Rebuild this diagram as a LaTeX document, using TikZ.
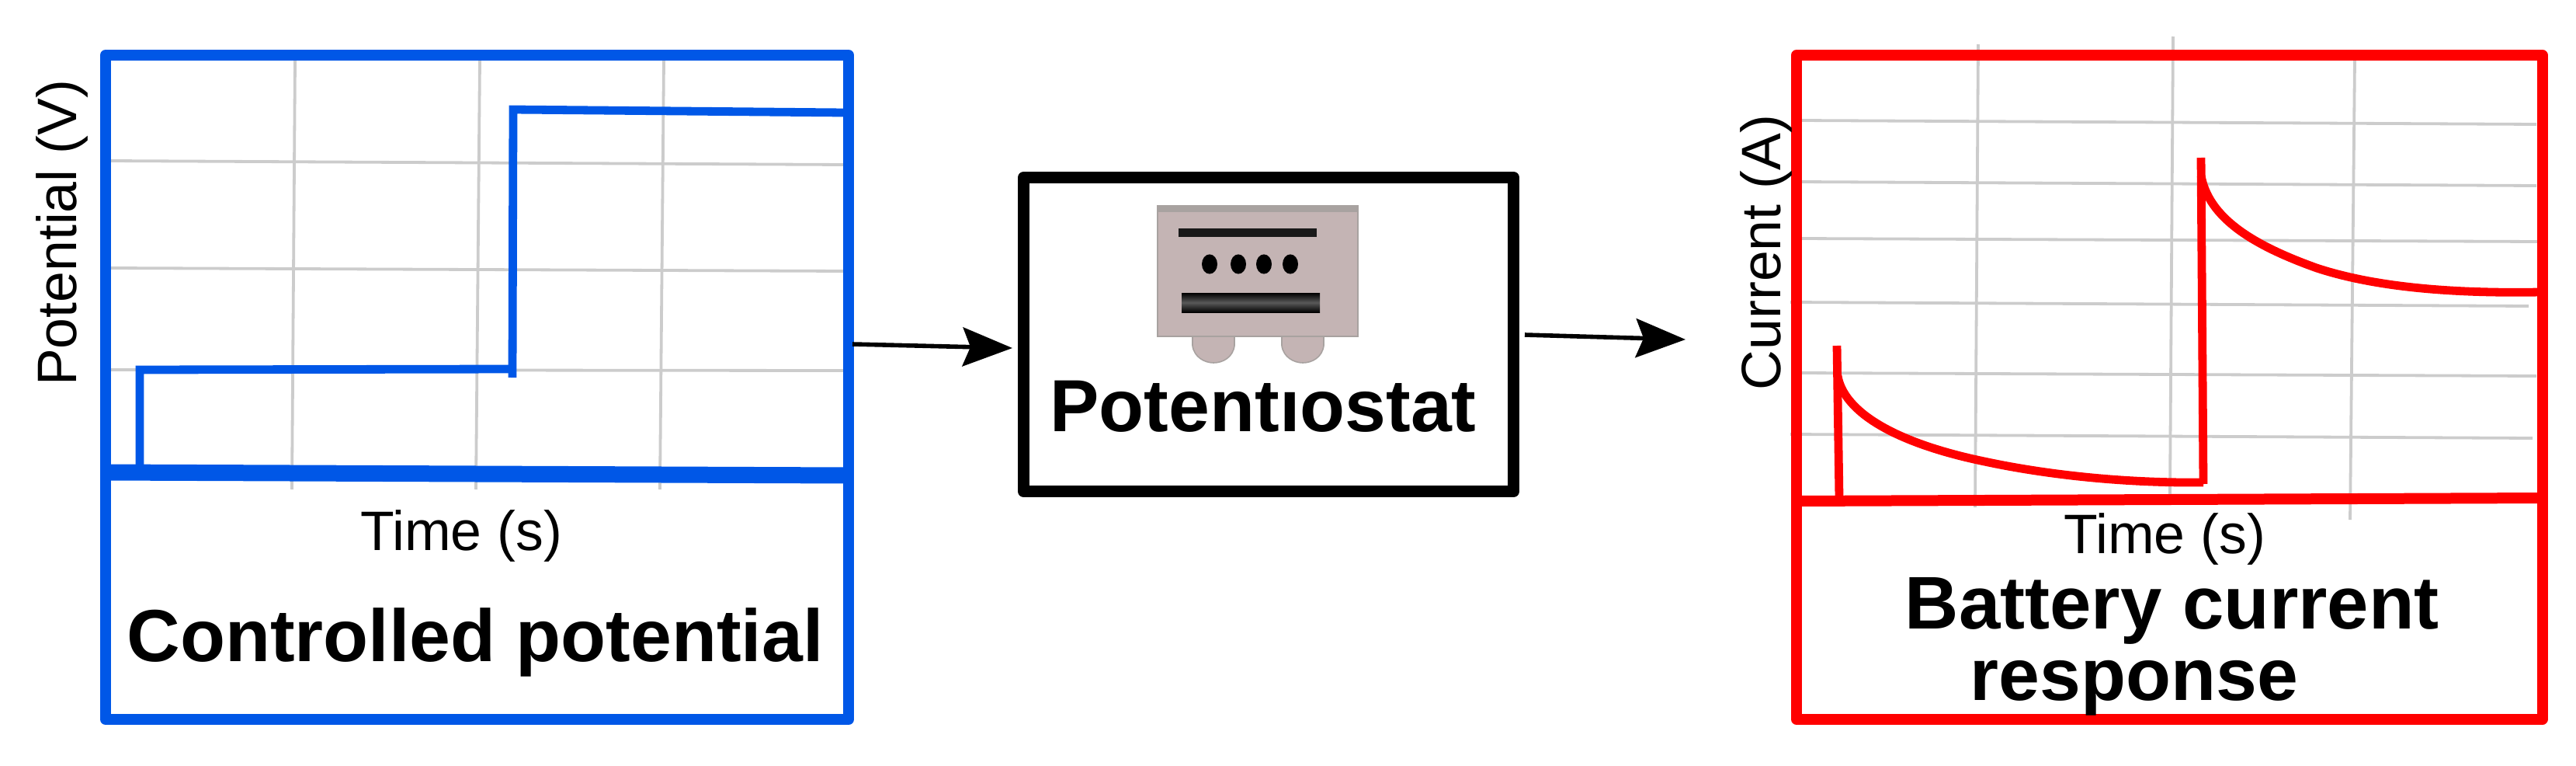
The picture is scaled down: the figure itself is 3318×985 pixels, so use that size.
\documentclass[tikz,border=0pt]{standalone}
\usepackage{fontspec}
\setmainfont{Liberation Sans}
\usetikzlibrary{arrows.meta}
\definecolor{fblue}{HTML}{0057E7}
\definecolor{fred}{HTML}{FF0000}
\definecolor{gridc}{HTML}{CCCCCC}
\definecolor{iconbody}{HTML}{C4B4B4}
\definecolor{iconedge}{HTML}{A8A2A0}
\tikzset{
  panel/.style={draw=#1,line width=7pt,line join=round,rectangle,inner sep=0pt,outer sep=0pt,fill=none},
  gridline/.style={draw=gridc,line width=1.9pt},
  plotblue/.style={draw=fblue,line width=5.4pt,line join=miter},
  plotred/.style={draw=fred,line width=5.4pt,line join=miter},
  flow/.style={draw=black,line width=2.8pt,-{Stealth[length=32pt,width=25pt,inset=5pt]}},
  axislabel/.style={font=\fontsize{35.8}{38}\selectfont,inner sep=0pt},
  title/.style={font=\fontsize{47.5}{50}\bfseries\selectfont,inner sep=0pt,anchor=base},
}
\begin{document}
\begin{tikzpicture}[x=0.5pt,y=-0.5pt]
\useasboundingbox (0,0) rectangle (3318,985);
% left panel grid
\foreach \a/\b in {380/376,618/613,855/850}{\draw[gridline] (\a,78) -- (\b,630);}
\foreach \a/\b in {207/212,345/349,476/477}{\draw[gridline] (142,\a) -- (1088,\b);}
\node[panel=fblue,minimum width=478.5pt,minimum height=427.5pt,anchor=north west] (inbox) at (136,71) {};
\draw[fblue,line width=10.5pt] (inbox.west |- 0,608) -- (inbox.east |- 0,612);
\draw[plotblue] (180,602) -- (180,476) -- (661,475);
\draw[plotblue] (660,486) -- (661,141) -- (1088,145);
\node[axislabel,anchor=base] (timeL) at (594,708) {Time (s)};
\node[title] (titleL) at (612,851) {Controlled potential};
\node[axislabel,rotate=90,anchor=base] (potL) at (98,300) {Potential (V)};
% potentiostat
\node[draw=black,line width=7.5pt,line join=round,rectangle,inner sep=0pt,outer sep=0pt,minimum width=315.5pt,minimum height=202pt,anchor=north west] (pot) at (1318.5,228.5) {};
\fill[iconbody,draw=iconedge,line width=.8pt] (1536,430) -- (1536,445) .. controls (1538,460) and (1552,467) .. (1563,467) .. controls (1575,467) and (1588,460) .. (1590,445) -- (1590,430) -- cycle;
\fill[iconbody,draw=iconedge,line width=.8pt] (1651,430) -- (1651,445) .. controls (1653,460) and (1667,467) .. (1678,467) .. controls (1690,467) and (1703,460) .. (1705,445) -- (1705,430) -- cycle;
\fill[iconbody,draw=iconedge,line width=.8pt] (1491,265) rectangle (1749,433);
\fill[iconedge] (1491,265) rectangle (1749,273);
\fill[black!90] (1518,294) rectangle (1696,305);
\foreach \x in {1558,1595,1628,1662}{\fill[black] (\x,340) ellipse [x radius=5pt,y radius=6.3pt];}
\shade[top color=black,bottom color=black,middle color=black!65] (1522,377) rectangle (1700,402);
\node[title] (potT) at (1627,555) {Potent\char"0131 ostat};
% right panel grid
\draw[gridline] (2548,57) -- (2544,653);
\draw[gridline] (2799,47) -- (2795,638);
\draw[gridline] (3033,75) -- (3027,669);
\foreach \a/\b/\s/\e in {155/160/2318/3267,234/239/2318/3267,307/311/2318/3270,389/394/2306/3257,480/484/2318/3267,559/564/2306/3262}{\draw[gridline] (\s,\a) -- (\e,\b);}
\node[panel=fred,minimum width=480.25pt,minimum height=427.5pt,anchor=north west] (outbox) at (2314,71) {};
\draw[fred,line width=7pt] (outbox.west |- 0,645) -- (outbox.east |- 0,641);
\draw[plotred] (2369,641) -- (2366,445);
\draw[plotred] (2367,484) .. controls (2375,530) and (2440,570) .. (2556,594) .. controls (2640,612) and (2740,622) .. (2838,621);
\draw[plotred] (2838,623) -- (2835,203);
\draw[plotred] (2835,226) .. controls (2845,280) and (2900,315) .. (2984,345) .. controls (3060,370) and (3160,378) .. (3272,376);
\node[axislabel,anchor=base] (timeR) at (2788,712) {Time (s)};
\node[title,font=\fontsize{48}{50}\bfseries\selectfont] (titleR1) at (2798,809) {Battery current};
\node[title] (titleR2) at (2749,901) {response};
\node[axislabel,rotate=90,anchor=base] (curL) at (2293,325) {Current (A)};
% connectors
\coordinate (a1s) at (1098,443);
\coordinate (a1e) at (1304,448);
\coordinate (a2s) at (1964,431);
\coordinate (a2e) at (2171,437);
\draw[flow] (a1s) -- (a1e);
\draw[flow] (a2s) -- (a2e);
\end{tikzpicture}
\end{document}
